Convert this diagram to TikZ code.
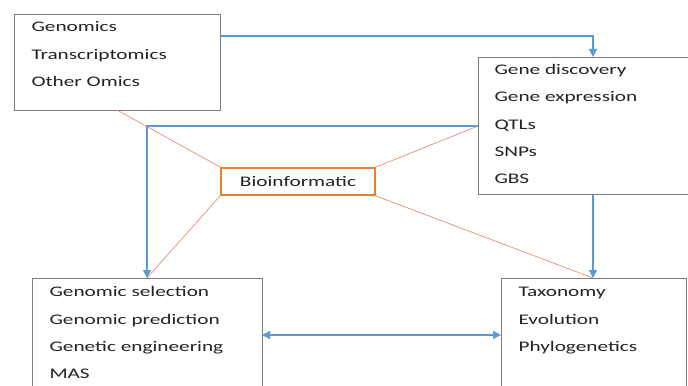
\documentclass[tikz,border=0pt]{standalone}
\usepackage{fontspec}
\setmainfont{Carlito}[FakeStretch=1.45]
\usetikzlibrary{arrows.meta}
\definecolor{linkblue}{RGB}{91,155,213}
\definecolor{biored}{RGB}{230,135,115}
\definecolor{bioorange}{RGB}{237,125,49}
\definecolor{boxgray}{RGB}{125,125,125}
\definecolor{itemtext}{RGB}{35,35,35}
\tikzset{every picture/.style={line width=0.75pt}}

\begin{document}
\begin{tikzpicture}[x=0.75pt,y=0.75pt,yscale=-1,xscale=1,
    listbox/.style={draw=boxgray, line width=1pt, anchor=north west, inner sep=0pt},
    item/.style={anchor=west, inner sep=0.75pt, text height=7pt, text depth=0pt, text=itemtext, font=\fontsize{11}{13}\selectfont},
    bluelink/.style={draw=linkblue, line width=1pt, -{Triangle[length=6pt,width=6pt]}},
    redlink/.style={draw=biored, line width=0.5pt}]
            \useasboundingbox (0,0) rectangle (688,385);

            %Boxes
            \node [listbox, minimum width=154.5pt, minimum height=72pt] (omics) at (14,14) {};
            \node [listbox, minimum width=160.5pt, minimum height=102.75pt] (genes) at (478,57) {};
            \node [listbox, minimum width=172.5pt, minimum height=85.5pt] (breeding) at (32,278) {};
            \node [listbox, minimum width=138.75pt, minimum height=85.5pt] (phylo) at (501,278) {};
            \node [draw=bioorange, line width=1.5pt, minimum width=115.5pt, minimum height=20.25pt, inner sep=0pt,
                   text height=7pt, text depth=0pt, text=itemtext, font=\fontsize{11}{13}\selectfont] (bioinf) at (298,181.5) {Bioinformatic};

            % Text Nodes
            \node [item] (genomics) at (30,27) {Genomics};
            \node [item] (transcr) at (30,55) {Transcriptomics};
            \node [item] (otheromics) at (30,82) {Other Omics};

            \node [item] (discovery) at (493,70) {Gene discovery};
            \node [item] (expression) at (493,97) {Gene expression};
            \node [item] (qtls) at (493,125) {QTLs};
            \node [item] (snps) at (493,152) {SNPs};
            \node [item] (gbs) at (493,179) {GBS};

            \node [item] (gselection) at (48,292) {Genomic selection};
            \node [item] (gprediction) at (48,320) {Genomic prediction};
            \node [item] (gengineering) at (48,347) {Genetic engineering};
            \node [item] (mas) at (48,374) {MAS};

            \node [item] (taxonomy) at (517,292) {Taxonomy};
            \node [item] (evolution) at (517,320) {Evolution};
            \node [item] (phylogen) at (517,347) {Phylogenetics};

            % Connector end points on the box borders
            \coordinate (omicsOut) at (220,36);
            \coordinate (omicsFoot) at (117,110);
            \coordinate (genesTop) at (593,57);
            \coordinate (genesFoot) at (593,194);
            \coordinate (genesSide) at (478,126);
            \coordinate (breedingTop) at (147,278);
            \coordinate (breedingSide) at (262,335);
            \coordinate (phyloTop) at (593,278);
            \coordinate (phyloSide) at (501,335);

            %Blue arrows
            \draw [bluelink] (omicsOut) -| (genesTop);
            \draw [bluelink] (genesFoot) -- (phyloTop);
            \draw [bluelink] (genesSide) -| (breedingTop);
            \draw [bluelink, {Triangle[length=6pt,width=6pt]}-{Triangle[length=6pt,width=6pt]}] (breedingSide) -- (phyloSide);

            %Red lines
            \draw [redlink] (omicsFoot) -- (bioinf.north west);
            \draw [redlink] (bioinf.south west) -- (breedingTop);
            \draw [redlink] (bioinf.north east) -- (genesSide);
            \draw [redlink] (bioinf.south east) -- (phyloTop);

        \end{tikzpicture}
\end{document}
